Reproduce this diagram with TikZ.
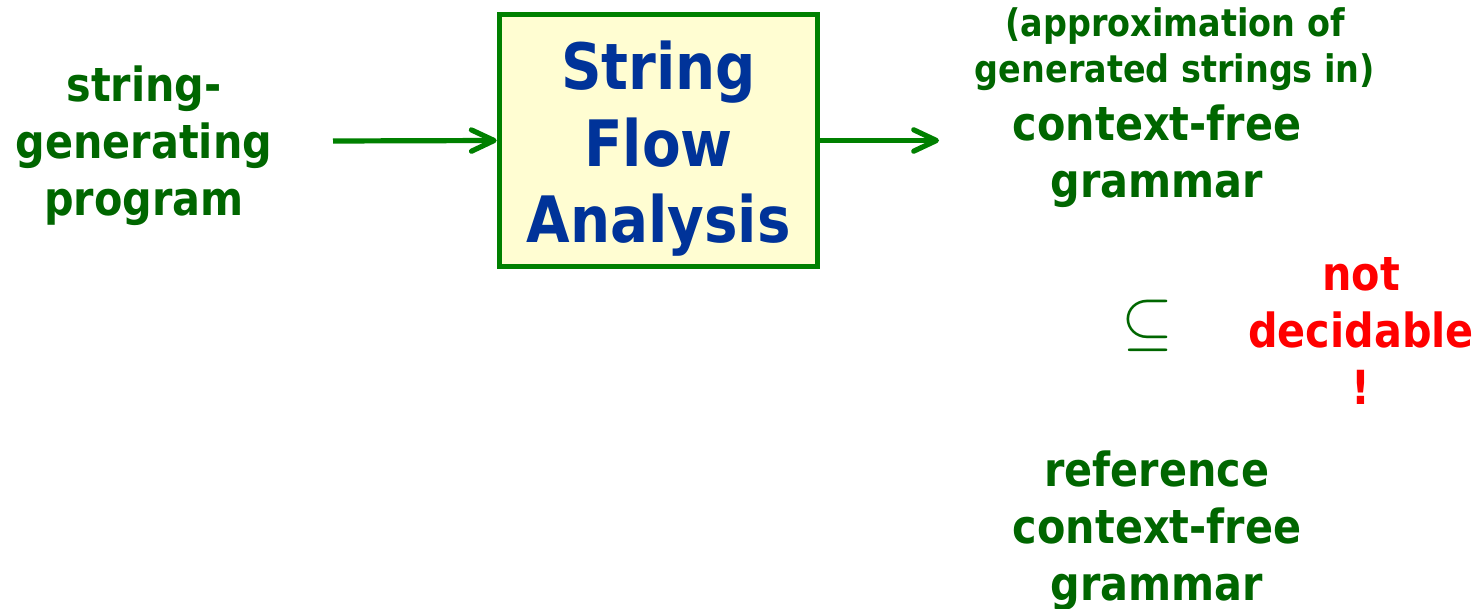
\RequirePackage{fix-cm}
\documentclass[tikz,border=0pt]{standalone}
\usepackage{fontspec}
\usetikzlibrary{arrows.meta}
\newfontfamily\tah{DejaVu Sans Bold}[FakeStretch=0.88]
\definecolor{txtgreen}{HTML}{006600}
\definecolor{linegreen}{HTML}{008000}
\definecolor{boxfill}{HTML}{FFFDD2}
\definecolor{boxblue}{HTML}{003399}
\definecolor{alertred}{HTML}{FF0000}
\tikzset{
  label/.style={inner sep=0pt, align=center, text=txtgreen, anchor=base,
    font=\tah\fontsize{35.25}{42.75}\selectfont},
  smalllabel/.style={label, font=\tah\fontsize{28.5}{34.5}\selectfont},
  redlabel/.style={label, text=alertred, font=\tah\fontsize{35.25}{43}\selectfont},
  bluelabel/.style={label, text=boxblue, font=\tah\fontsize{48}{57.4}\selectfont},
  procbox/.style={draw=linegreen, fill=boxfill, line width=4.2pt,
    minimum width=318*0.75pt, minimum height=252*0.75pt, inner sep=0pt},
  flow/.style={draw=linegreen, line width=3.9pt,
    -{Straight Barb[length=17pt, width=16pt, line cap=round, line join=round]}},
}
\begin{document}
\begin{tikzpicture}[x=0.75pt, y=-0.75pt]
  \useasboundingbox (0,0) rectangle (1482,609);
  % input program (anchored at the baseline of its last line)
  \node[label] (prog) at (144,215.5) {string-\\generating\\program};
  % analysis box
  \node[procbox] (sfa) at (658.5,140.5) {};
  \node[bluelabel] (sfatext) at (658.5,243) {String\\Flow\\Analysis};
  % result grammar
  \node[smalllabel] (approx) at (1175,83) {(approximation of\\generated strings in)};
  \node[label] (cfg) at (1157,198) {context-free\\grammar};
  % inclusion test
  \node[inner sep=0pt, text=txtgreen, font=\fontsize{50}{52}\selectfont] (sub) at (1147,326) {$\subseteq$};
  \node[redlabel] (undec) at (1361,405) {not\\decidable\\!};
  \node[label] (refcfg) at (1157,600) {reference\\context-free\\grammar};
  % connectors
  \coordinate (src) at (333,141);
  \coordinate (dst) at (939,140.5);
  \draw[flow] (src) -- (sfa.west);
  \draw[flow] (sfa.east) -- (dst);
\end{tikzpicture}
\end{document}
